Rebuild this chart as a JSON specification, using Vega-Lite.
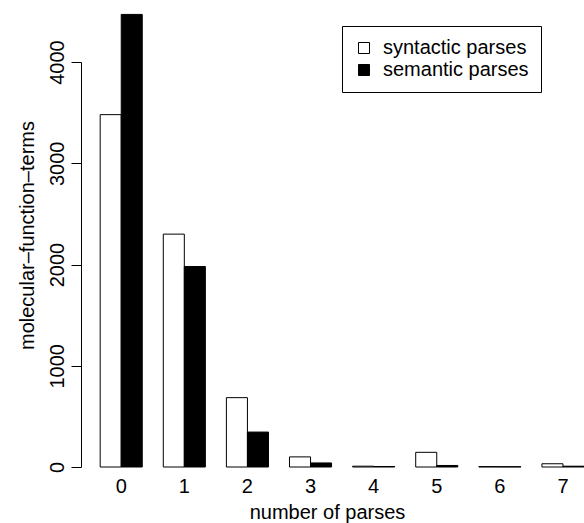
{
  "$schema": "https://vega.github.io/schema/vega-lite/v6.json",
  "autosize": "none",
  "width": 503,
  "height": 405,
  "padding": {"left": 81, "top": 62, "right": 0, "bottom": 56},
  "background": "white",
  "config": {"view": {"stroke": null}, "font": "Liberation Sans"},
  "data": {
    "values": [
      {"parses": "0", "series": "syntactic parses", "count": 3480},
      {"parses": "0", "series": "semantic parses", "count": 4470},
      {"parses": "1", "series": "syntactic parses", "count": 2300},
      {"parses": "1", "series": "semantic parses", "count": 1980},
      {"parses": "2", "series": "syntactic parses", "count": 685},
      {"parses": "2", "series": "semantic parses", "count": 345},
      {"parses": "3", "series": "syntactic parses", "count": 100},
      {"parses": "3", "series": "semantic parses", "count": 40},
      {"parses": "4", "series": "syntactic parses", "count": 8},
      {"parses": "4", "series": "semantic parses", "count": 5},
      {"parses": "5", "series": "syntactic parses", "count": 145},
      {"parses": "5", "series": "semantic parses", "count": 15},
      {"parses": "6", "series": "syntactic parses", "count": 4},
      {"parses": "6", "series": "semantic parses", "count": 3},
      {"parses": "7", "series": "syntactic parses", "count": 32},
      {"parses": "7", "series": "semantic parses", "count": 8}
    ]
  },
  "mark": {"type": "bar", "stroke": "black", "strokeWidth": 1},
  "encoding": {
    "x": {
      "field": "parses",
      "type": "nominal",
      "sort": null,
      "scale": {"paddingInner": 0.3333, "paddingOuter": 0.152, "align": 1},
      "axis": {
        "title": "number of parses",
        "titleFont": "Liberation Sans",
        "titleFontSize": 20,
        "titleFontWeight": "normal",
        "titleColor": "black",
        "titleX": 246,
        "titleY": 51,
        "titleBaseline": "alphabetic",
        "titleAlign": "center",
        "labelAngle": 0,
        "labelFontSize": 20,
        "labelColor": "black",
        "labelBaseline": "alphabetic",
        "labelPadding": 25,
        "ticks": false,
        "domain": false,
        "grid": false
      }
    },
    "xOffset": {
      "field": "series",
      "type": "nominal",
      "scale": {"domain": ["syntactic parses", "semantic parses"], "paddingInner": 0, "paddingOuter": 0}
    },
    "y": {
      "field": "count",
      "type": "quantitative",
      "scale": {"domain": [0, 4000], "nice": false, "zero": true},
      "axis": {
        "title": "molecular–function–terms",
        "titleFont": "Liberation Sans",
        "titleFontSize": 20,
        "titleFontWeight": "normal",
        "titleColor": "black",
        "titleAngle": 270,
        "titleAlign": "center",
        "titleBaseline": "alphabetic",
        "titleX": -48,
        "titleY": 173,
        "values": [0, 1000, 2000, 3000, 4000],
        "format": "d",
        "labelAngle": 270,
        "labelAlign": "center",
        "labelBaseline": "alphabetic",
        "labelFontSize": 20,
        "labelColor": "black",
        "labelPadding": 8,
        "tickSize": 10,
        "tickColor": "black",
        "domainColor": "black",
        "grid": false
      }
    },
    "fill": {
      "field": "series",
      "type": "nominal",
      "scale": {"domain": ["syntactic parses", "semantic parses"], "range": ["white", "black"]},
      "legend": {
        "title": null,
        "orient": "none",
        "legendX": 261,
        "legendY": -36,
        "strokeColor": "black",
        "fillColor": "white",
        "padding": 12,
        "symbolType": "square",
        "symbolSize": 121,
        "symbolStrokeColor": "black",
        "symbolStrokeWidth": 1,
        "labelFontSize": 20,
        "labelColor": "black",
        "labelOffset": 9,
        "rowPadding": 2
      }
    }
  }
}
